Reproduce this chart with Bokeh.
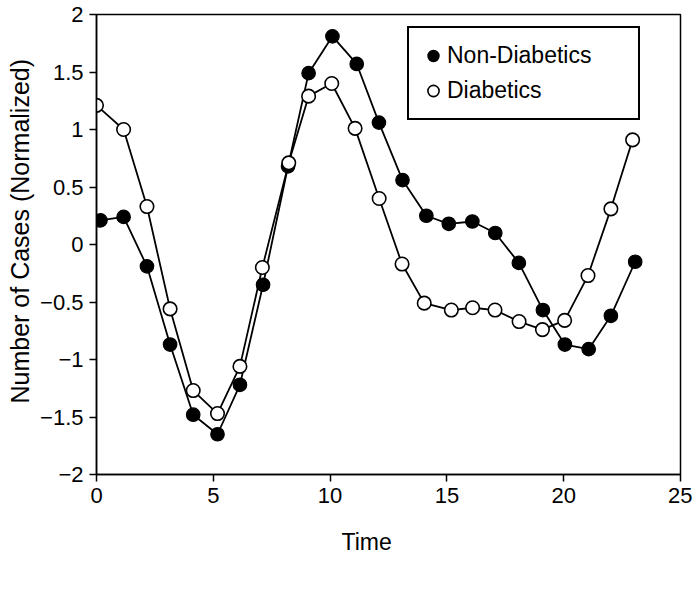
from bokeh.plotting import figure
from bokeh.models import (ColumnDataSource, Range1d, FixedTicker, Legend,
                          LegendItem, Title)
from bokeh.embed import file_html
from bokeh.resources import INLINE

# values
time_non = [0.17, 1.16, 2.16, 3.15, 4.14, 5.18, 6.14, 7.13, 8.2, 9.08, 10.1, 11.14,
            12.09, 13.1, 14.12, 15.08, 16.09, 17.07, 18.08, 19.11, 20.05, 21.07,
            22.02, 23.06]
non_diabetics = [0.21, 0.24, -0.19, -0.87, -1.48, -1.65, -1.22, -0.35, 0.68, 1.49,
                 1.81, 1.57, 1.06, 0.56, 0.25, 0.18, 0.20, 0.10, -0.16, -0.57,
                 -0.87, -0.91, -0.62, -0.15]
time_dia = [0.0, 1.16, 2.16, 3.15, 4.14, 5.18, 6.14, 7.1, 8.23, 9.08, 10.07, 11.07,
            12.1, 13.08, 14.03, 15.19, 16.1, 17.06, 18.09, 19.09, 20.04, 21.04,
            22.02, 22.95]
diabetics = [1.21, 1.00, 0.33, -0.56, -1.27, -1.47, -1.06, -0.20, 0.71, 1.29, 1.40,
             1.01, 0.40, -0.17, -0.51, -0.57, -0.55, -0.57, -0.67, -0.74, -0.66,
             -0.27, 0.31, 0.91]

x_ticks = [0, 5, 10, 15, 20, 25]
y_ticks = [-2, -1.5, -1, -0.5, 0, 0.5, 1, 1.5, 2]

FONT = "Liberation Sans"


def fmt(v):
    s = "%g" % abs(v)
    return ("\u2212" + s) if v < 0 else s


def main():
    src_non = ColumnDataSource(data=dict(t=time_non, y=non_diabetics))
    src_dia = ColumnDataSource(data=dict(t=time_dia, y=diabetics))

    p = figure(width=692, height=577, output_backend="svg", toolbar_location=None,
               x_range=Range1d(0, 25), y_range=Range1d(-2, 2),
               min_border_left=95, min_border_top=14, min_border_right=12,
               min_border_bottom=103)
    p.grid.visible = False
    p.outline_line_color = "black"
    p.outline_line_width = 1.5
    p.outline_line_alpha = 1

    p.line('t', 'y', source=src_non, line_color="black", line_width=1.8)
    p.line('t', 'y', source=src_dia, line_color="black", line_width=1.8)
    r_non = p.scatter('t', 'y', source=src_non, size=13.5, fill_color="black",
                      line_color="black", line_width=1.2)
    r_dia = p.scatter('t', 'y', source=src_dia, size=13.5, fill_color="white",
                      line_color="black", line_width=1.6)

    p.xaxis.ticker = FixedTicker(ticks=x_ticks)
    p.yaxis.ticker = FixedTicker(ticks=y_ticks)
    p.xaxis.major_label_overrides = {v: fmt(v) for v in x_ticks}
    p.yaxis.major_label_overrides = {v: fmt(v) for v in y_ticks}
    for ax in (p.xaxis, p.yaxis):
        ax.axis_line_color = "black"
        ax.axis_line_width = 1.5
        ax.major_tick_line_color = "black"
        ax.major_tick_line_width = 1.5
        ax.major_tick_in = 0
        ax.major_tick_out = 7
        ax.minor_tick_line_color = None
        ax.major_label_text_font = FONT
        ax.major_label_text_font_size = "22px"
        ax.major_label_text_color = "black"
    p.xaxis.major_label_standoff = 6
    p.yaxis.major_label_standoff = 6

    # axis titles: the reference has them a little off the frame centre
    ytitle = Title(text="Number of Cases (Normalized)", align="left", offset=71,
                   text_font=FONT, text_font_size="25px", text_font_style="normal",
                   text_color="black", standoff=7)
    p.add_layout(ytitle, "left")
    xtitle = Title(text="Time", align="left", offset=245,
                   text_font=FONT, text_font_size="23px", text_font_style="normal",
                   text_color="black", standoff=43)
    p.add_layout(xtitle, "below")

    legend = Legend(items=[LegendItem(label="Non-Diabetics", renderers=[r_non]),
                           LegendItem(label="Diabetics", renderers=[r_dia])],
                    location=(311, 354))
    legend.margin = 0
    legend.padding = 10
    legend.spacing = 0
    legend.glyph_width = 28
    legend.glyph_height = 35
    legend.label_height = 35
    legend.label_width = 181
    legend.label_standoff = 0
    legend.label_text_font = FONT
    legend.label_text_font_size = "23px"
    legend.label_text_color = "black"
    legend.border_line_color = "black"
    legend.border_line_alpha = 1
    legend.border_line_width = 2
    legend.background_fill_color = "white"
    legend.background_fill_alpha = 1
    p.add_layout(legend, "center")

    open("out.html", "w").write(file_html(p, INLINE))


if __name__ == '__main__':
    main()
